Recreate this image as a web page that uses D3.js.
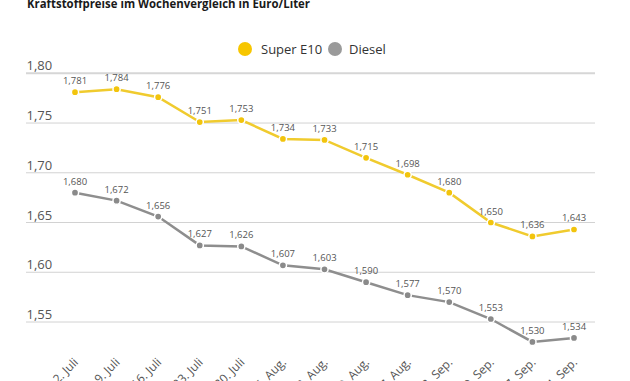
<!DOCTYPE html>
<html>
<head>
<meta charset="utf-8">
<script src="https://cdn.jsdelivr.net/npm/d3@7"></script>
<style>
    body { margin: 0; background: #fff; }
    svg { display: block; font-family: "Open Sans", sans-serif; }
</style>
</head>
<body>
<div id="chart"></div>
<script>
// Kraftstoffpreise im Wochenvergleich

const dates = ["2. Juli", "9. Juli", "16. Juli", "23. Juli", "30. Juli", "6. Aug.", "13. Aug.",
    "20. Aug.", "27. Aug.", "3. Sep.", "10. Sep.", "17. Sep.", "24. Sep."];
const superE10 = [1.781, 1.784, 1.776, 1.751, 1.753, 1.734, 1.733, 1.715, 1.698, 1.680, 1.650, 1.636, 1.643];
const diesel = [1.680, 1.672, 1.656, 1.627, 1.626, 1.607, 1.603, 1.590, 1.577, 1.570, 1.553, 1.530, 1.534];
const yTicks = [1.55, 1.60, 1.65, 1.70, 1.75, 1.80];

const series = [
    { name: "Super E10", values: superE10, line: "#f0cb2e", dot: "#f2c40c", legend: "#f7c600" },
    { name: "Diesel", values: diesel, line: "#8e8e8e", dot: "#8a8a8a", legend: "#9a9a9a" }
];

const fmt = v => d3.format(".3f")(v).replace(".", ",");
const fmtTick = v => d3.format(".2f")(v).replace(".", ",");

function createVisualization() {
    const svgWidth = 630;
    const svgHeight = 381;

    const svg = d3.select("#chart")
        .append("svg")
        .attr("width", svgWidth)
        .attr("height", svgHeight);

    const gridLeft = 26;
    const gridRight = 595;

    // Scales
    const xScale = d3.scalePoint()
        .domain(dates)
        .range([75, 574]);

    const yScale = d3.scaleLinear()
        .domain([1.55, 1.80])
        .range([322, 73.3]);

    // Title
    svg.append("text")
        .attr("x", 27)
        .attr("y", 8)
        .attr("font-size", 12.5)
        .attr("font-weight", "bold")
        .attr("fill", "#1a1a1a")
        .attr("textLength", 283)
        .attr("lengthAdjust", "spacingAndGlyphs")
        .text("Kraftstoffpreise im Wochenvergleich in Euro/Liter");

    // Legend
    const legendPos = [{ cx: 245, tx: 261 }, { cx: 335, tx: 349 }];
    series.forEach((s, i) => {
        svg.append("circle")
            .attr("cx", legendPos[i].cx)
            .attr("cy", 49)
            .attr("r", 7)
            .attr("fill", s.legend);
        svg.append("text")
            .attr("x", legendPos[i].tx)
            .attr("y", 49)
            .attr("dy", "0.35em")
            .attr("font-size", 13)
            .attr("fill", "#333")
            .text(s.name);
    });

    // Grid lines + y labels
    svg.selectAll(".grid")
        .data(yTicks)
        .enter().append("line")
        .attr("class", "grid")
        .attr("x1", gridLeft)
        .attr("x2", gridRight)
        .attr("y1", d => yScale(d))
        .attr("y2", d => yScale(d))
        .attr("stroke", d => d === 1.80 ? "#d6d6d6" : "#d2d2d2")
        .attr("stroke-width", d => d === 1.80 ? 2 : 1);

    svg.selectAll(".ytick")
        .data(yTicks)
        .enter().append("text")
        .attr("class", "ytick")
        .attr("x", 26.5)
        .attr("y", d => yScale(d) - 3)
        .attr("font-size", 13)
        .attr("fill", "#555")
        .text(fmtTick);

    // X labels
    svg.selectAll(".xlab")
        .data(dates)
        .enter().append("text")
        .attr("class", "xlab")
        .attr("transform", d => `translate(${xScale(d) + 4},363) rotate(-45)`)
        .attr("text-anchor", "end")
        .attr("font-size", 12)
        .attr("fill", "#555")
        .text(d => d);

    // Lines, dots, labels
    const line = d3.line()
        .x((d, i) => xScale(dates[i]))
        .y(d => yScale(d));

    series.forEach(s => {
        svg.append("path")
            .datum(s.values)
            .attr("fill", "none")
            .attr("stroke", s.line)
            .attr("stroke-width", 2.5)
            .attr("d", line);

        svg.selectAll(null)
            .data(s.values)
            .enter().append("circle")
            .attr("cx", (d, i) => xScale(dates[i]))
            .attr("cy", d => yScale(d))
            .attr("r", 3.6)
            .attr("fill", s.dot)
            .attr("stroke", "#fff")
            .attr("stroke-width", 1.5);

        svg.selectAll(null)
            .data(s.values)
            .enter().append("text")
            .attr("x", (d, i) => xScale(dates[i]))
            .attr("y", d => yScale(d) - 8)
            .attr("text-anchor", "middle")
            .attr("font-size", 9.5)
            .attr("fill", "#555")
            .text(fmt);
    });
}

createVisualization();
</script>
</body>
</html>
